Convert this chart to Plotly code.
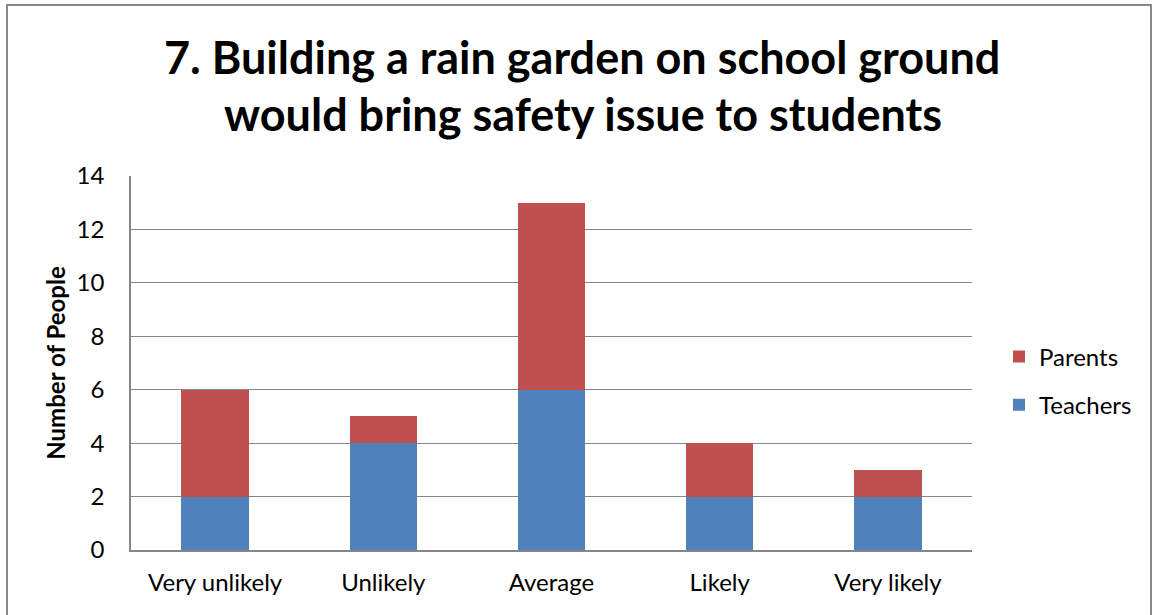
import plotly.graph_objects as go

categories = ["Very unlikely", "Unlikely", "Average", "Likely", "Very likely"]
teachers = [2, 4, 6, 2, 2]
parents = [4, 1, 7, 2, 1]
y_ticks = [0, 2, 4, 6, 8, 10, 12, 14]
title_lines = ["7. Building a rain garden on school ground",
               "would bring safety issue to students"]

FONT = "Lato, Calibri, Carlito, sans-serif"
L, R, T, B = 131, 972, 176, 550
PW, PH = R - L, B - T

def px(x):
    return (x - L) / PW

def py(y):
    return (B - y) / PH

fig = go.Figure()
fig.add_trace(go.Bar(name="Teachers", x=categories, y=teachers, legendgroup="t", legendrank=2,
                     marker=dict(color="#4F81BD", line=dict(width=0))))
fig.add_trace(go.Bar(name="Parents", x=categories, y=parents, legendgroup="p", legendrank=1,
                     marker=dict(color="#C0504D", line=dict(width=0))))

annotations = [
    dict(text="<b>%s</b>" % title_lines[0], x=px(582), y=py(57), xref="paper", yref="paper",
         xanchor="center", yanchor="middle", showarrow=False,
         font=dict(size=45, family=FONT, color="#000000")),
    dict(text="<b>%s</b>" % title_lines[1], x=px(583), y=py(114), xref="paper", yref="paper",
         xanchor="center", yanchor="middle", showarrow=False,
         font=dict(size=45, family=FONT, color="#000000")),
]

fig.update_layout(
    barmode="stack",
    bargap=0.6,
    width=1153, height=615,
    margin=dict(l=L, r=1153 - R, t=T, b=615 - B),
    paper_bgcolor="white", plot_bgcolor="white",
    font=dict(family=FONT, color="#000000", size=24),
    annotations=annotations,
    legend=dict(
        x=px(999), xanchor="left", y=py(381), yanchor="middle",
        traceorder="grouped", font=dict(size=24, family=FONT),
        itemwidth=30, tracegroupgap=14,
    ),
    xaxis=dict(
        showline=True, linecolor="#868686", linewidth=1.5,
        ticks="", tickfont=dict(size=24), ticklabelstandoff=10,
    ),
    yaxis=dict(
        range=[0, 14], tickvals=y_ticks, showgrid=True, gridcolor="#868686", gridwidth=1,
        showline=True, linecolor="#868686", linewidth=1.5,
        ticks="", tickfont=dict(size=24), ticklabelstandoff=20,
        title=dict(text="<b>Number of People</b>", font=dict(size=24), standoff=4),
        zeroline=False,
    ),
    shapes=[dict(
        type="rect", xref="paper", yref="paper",
        x0=px(7), x1=px(1151), y0=py(640), y1=py(5),
        line=dict(color="#888888", width=2), fillcolor="rgba(0,0,0,0)", layer="below",
    )],
)

fig.write_html("out.html", config={"displayModeBar": False},
               post_script="document.body.style.margin='0';")
